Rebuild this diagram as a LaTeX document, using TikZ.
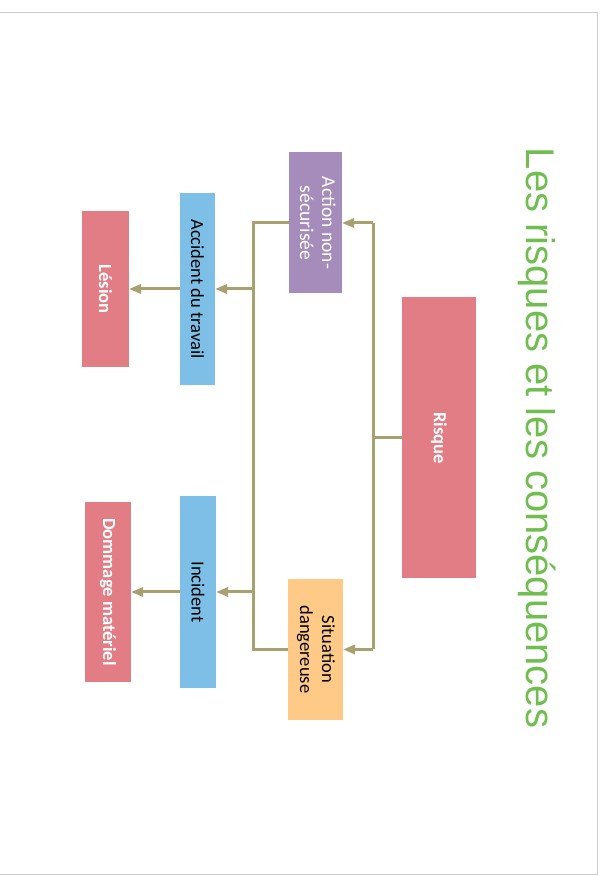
\documentclass[tikz,border=0pt]{standalone}
\usepackage{fontspec}
\setmainfont{Carlito}
\newfontfamily\titlefont{Liberation Sans}
\usetikzlibrary{arrows.meta}
\definecolor{pinkbox}{RGB}{226,125,133}
\definecolor{purplebox}{RGB}{166,140,186}
\definecolor{orangebox}{RGB}{255,201,135}
\definecolor{bluebox}{RGB}{125,191,230}
\definecolor{olive}{RGB}{168,160,110}
\definecolor{titlegreen}{RGB}{112,190,80}
\definecolor{framegray}{RGB}{205,205,205}
\tikzset{
  box/.style={draw=none, inner sep=0pt, outer sep=0pt, align=center,
    font=\fontsize{18.5}{22}\selectfont},
  pinkb/.style={box, fill=pinkbox, text=white, font=\bfseries\fontsize{18.5}{22}\selectfont},
  purpleb/.style={box, fill=purplebox, text=white, font=\fontsize{19.5}{22}\selectfont},
  orangeb/.style={box, fill=orangebox, text=black},
  blueb/.style={box, fill=bluebox, text=black},
  conn/.style={draw=olive, line width=3pt},
  arr/.style={conn, -{Triangle[length=12pt,width=9pt]}},
}
\begin{document}
\begin{tikzpicture}[x=1pt,y=1pt]
\useasboundingbox (0,0) rectangle (605,876);
% frame
\draw[framegray, line width=1.2pt] (0,863.5) -- (597.5,863.5) -- (597.5,1.5) -- (0,1.5);
% title
\node[text=titlegreen, font=\titlefont\fontsize{40}{48}\selectfont, inner sep=0pt] (title) at (537,438)
  {\rotatebox{-90}{Les risques et les conséquences}};
% boxes
\node[pinkb, minimum width=74pt, minimum height=281pt] (risque) at (439,438)
  {\rotatebox{-90}{Risque}};
\node[purpleb, minimum width=53pt, minimum height=141pt] (action) at (315.5,653)
  {\rotatebox{-90}{\begin{tabular}{@{}c@{}}Action non-\\sécurisée\end{tabular}}};
\node[orangeb, minimum width=55pt, minimum height=141pt] (situation) at (315.5,226.5)
  {\rotatebox{-90}{\begin{tabular}{@{}c@{}}Situation\\dangereuse\end{tabular}}};
\node[blueb, minimum width=35pt, minimum height=192pt] (accident) at (197.5,587)
  {\rotatebox{-90}{Accident du travail}};
\node[blueb, minimum width=36pt, minimum height=192pt] (incident) at (198,284)
  {\rotatebox{-90}{Incident}};
\node[pinkb, minimum width=47pt, minimum height=156pt] (lesion) at (105.5,587)
  {\rotatebox{-90}{Lésion}};
\node[pinkb, minimum width=46pt, minimum height=180pt] (dommage) at (108,284)
  {\rotatebox{-90}{Dommage matériel}};
% bus coordinates
\coordinate (b1) at (373,438);
\coordinate (b2) at (253,438);
% connectors
\draw[conn] (risque.west) -- (risque.west -| b1);
\draw[conn] (action.east -| b1) -- (situation.east -| b1);
\draw[arr] (action.east -| b1) -- (action.east);
\draw[arr] (situation.east -| b1) -- (situation.east);
\draw[conn] (action.west) -- (action.west -| b2) -- (situation.west -| b2) -- (situation.west);
\draw[arr] (accident.east -| b2) -- (accident.east);
\draw[arr] (incident.east -| b2) -- (incident.east);
\draw[arr] (accident.west) -- (lesion.east);
\draw[arr] (incident.west) -- (dommage.east);
\end{tikzpicture}
\end{document}
